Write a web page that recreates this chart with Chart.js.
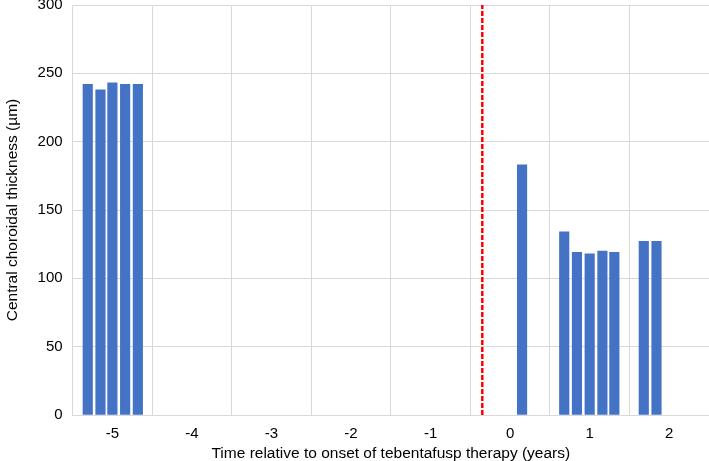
<!DOCTYPE html>
<html>
<head>
<meta charset="utf-8">
<script src="https://cdn.jsdelivr.net/npm/chart.js@4"></script>
<style>
  html, body { margin: 0; padding: 0; background: #fff; }
  #wrap { width: 709px; height: 461px; }
</style>
</head>
<body>
<div id="wrap"><canvas id="chart"></canvas></div>
<script>
// years relative to tebentafusp onset, and thickness in µm
const tempos = [-5.31, -5.15, -5.0, -4.84, -4.68, 0.15, 0.68, 0.84, 1.0, 1.16, 1.31, 1.68, 1.84];
const espessura = [242, 238, 243, 242, 242, 183, 134, 119, 118, 120, 119, 127, 127];
const inicioTerapia = -0.35;
const yTicks = [0, 50, 100, 150, 200, 250, 300];

const fonte = "'Liberation Sans', Arial, sans-serif";

const ctx = document.getElementById('chart').getContext('2d');
new Chart(ctx, {
  data: {
    datasets: [
      {
        type: 'bar',
        data: tempos.map((t, i) => ({ x: t, y: espessura[i] })),
        backgroundColor: '#4472c4',
        barThickness: 9.5
      },
      {
        type: 'line',
        data: [{ x: inicioTerapia, y: 0 }, { x: inicioTerapia, y: 300 }],
        borderColor: '#ff0000',
        borderWidth: 2.5,
        borderDash: [5, 2],
        pointRadius: 0
      }
    ]
  },
  options: {
    responsive: true,
    maintainAspectRatio: false,
    animation: false,
    layout: { padding: { top: 5, right: 0, left: 3, bottom: 0 } },
    plugins: { legend: { display: false }, tooltip: { enabled: false } },
    scales: {
      x: {
        type: 'linear',
        min: -5.5,
        max: 2.5,
        offset: false,
        afterFit: axis => { axis.paddingRight = 0; axis.height = 46; },
        ticks: {
          stepSize: 0.5,
          autoSkip: false,
          maxRotation: 0,
          padding: 10,
          color: '#000',
          font: { family: fonte, size: 15 },
          callback: v => Number.isInteger(v) ? String(v) : ''
        },
        grid: {
          offset: false,
          drawTicks: false,
          color: c => (c.tick && !Number.isInteger(c.tick.value) && c.tick.value > -5.5) ? '#d9d9d9' : 'rgba(0,0,0,0)'
        },
        border: { color: '#d9d9d9' },
        title: {
          display: true,
          text: 'Time relative to onset of tebentafusp therapy (years)',
          color: '#000',
          font: { family: fonte, size: 15.5 },
          padding: { top: -2, bottom: -2 }
        }
      },
      y: {
        min: 0,
        max: 300,
        afterBuildTicks: axis => { axis.ticks = yTicks.map(v => ({ value: v })); },
        afterFit: axis => { axis.paddingTop = 0; axis.paddingBottom = 0; },
        ticks: {
          color: '#000',
          font: { family: fonte, size: 15 },
          padding: 10
        },
        grid: { drawTicks: false, color: '#d9d9d9' },
        border: { color: '#d9d9d9' },
        title: {
          display: true,
          text: 'Central choroidal thickness (µm)',
          color: '#000',
          font: { family: fonte, size: 15.5 },
          padding: { top: 0, bottom: 6 }
        }
      }
    }
  }
});
</script>
</body>
</html>
